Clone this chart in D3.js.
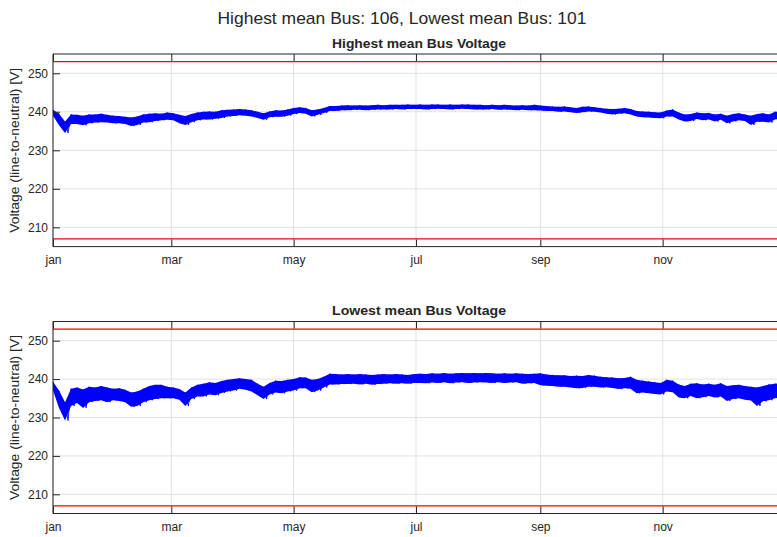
<!DOCTYPE html>
<html>
<head>
<meta charset="utf-8">
<script src="https://cdn.jsdelivr.net/npm/d3@7"></script>
<style>
  html, body { margin: 0; padding: 0; background: #fff; }
  svg { display: block; }
  text { font-family: "Liberation Sans", Arial, sans-serif; fill: #262626; }
</style>
</head>
<body>
<script>
// ---------------- DATA ----------------
const mainTitle = "Highest mean Bus: 106, Lowest mean Bus: 101";
const panelTitles = ["Highest mean Bus Voltage", "Lowest mean Bus Voltage"];
const yLabel = "Voltage (line-to-neutral) [V]";
const monthTicks = ["jan", "mar", "may", "jul", "sep", "nov"];
const yTicks = [210, 220, 230, 240, 250];
const limitLines = [207, 253];
const year = 2023;
// sample positions (day of year), one envelope reading every 3 days
const sampleDays = d3.range(0, 364, 3);

// Highest mean bus (106): band upper / lower envelope [V]
const highBusHi = [
240.5,239.5,237.5,239.3,239.2,239.0,239.3,239.3,239.5,239.2,239.0,238.9,238.7,238.5,238.8,239.3,
239.5,239.6,239.5,239.8,239.6,239.2,238.9,239.4,239.8,240.0,240.1,240.0,240.4,240.5,240.6,240.7,
240.6,240.4,240.0,239.6,240.1,240.4,240.3,240.6,241.0,241.2,241.0,240.4,240.6,241.0,241.5,241.5,
241.6,241.7,241.6,241.7,241.6,241.7,241.8,241.7,241.8,241.8,241.8,241.9,241.8,241.9,241.8,241.9,
241.9,241.8,241.9,241.8,241.9,241.9,241.8,241.8,241.7,241.8,241.7,241.8,241.7,241.6,241.7,241.6,
241.8,241.6,241.5,241.4,241.3,241.4,241.2,241.0,241.3,241.4,241.2,241.0,240.8,240.7,240.8,241.0,
240.7,240.2,240.1,240.0,239.9,239.8,240.3,240.6,239.8,239.3,239.4,239.8,239.6,239.7,239.3,239.5,
239.0,239.4,239.6,239.3,239.0,239.4,239.6,239.3,240.0,240.0
];
const highBusLo = [
239.0,236.5,234.5,236.8,236.8,236.5,237.0,237.2,237.3,237.2,237.0,237.0,236.8,236.3,236.6,237.2,
237.3,237.6,237.8,237.9,237.8,237.0,236.6,237.3,237.8,238.0,238.0,238.2,238.4,238.8,238.9,239.1,
239.0,238.8,238.4,237.9,238.6,238.7,238.7,239.0,239.4,239.7,239.5,238.8,239.2,239.7,240.2,240.2,
240.4,240.4,240.5,240.5,240.4,240.5,240.6,240.6,240.6,240.7,240.6,240.7,240.7,240.7,240.6,240.7,
240.8,240.7,240.6,240.7,240.8,240.7,240.6,240.6,240.6,240.7,240.5,240.6,240.5,240.4,240.5,240.4,
240.4,240.3,240.2,240.2,240.0,240.1,239.9,239.7,239.9,240.1,240.0,239.8,239.5,239.3,239.5,239.6,
239.3,238.8,238.6,238.5,238.4,238.3,238.8,238.8,238.0,237.5,237.6,238.1,237.8,238.0,237.5,237.9,
237.0,237.5,237.8,237.6,236.6,237.4,237.4,237.2,238.0,238.2
];

// Lowest mean bus (101): band upper / lower envelope [V]
const lowBusHi = [
239.3,237.0,234.0,237.5,237.8,237.3,238.0,237.8,238.2,237.8,237.5,237.6,237.2,236.5,236.8,237.5,
238.2,238.5,238.5,238.0,237.8,237.4,236.5,237.8,238.5,238.8,239.2,239.0,239.5,239.8,240.0,240.2,
240.0,239.8,238.8,238.0,239.0,239.6,239.5,239.8,240.0,240.5,240.4,239.8,240.0,240.6,241.4,241.3,
241.2,241.3,241.2,241.3,241.2,241.1,241.2,241.3,241.2,241.3,241.2,241.1,241.3,241.4,241.3,241.5,
241.4,241.6,241.4,241.5,241.6,241.5,241.6,241.5,241.6,241.5,241.4,241.5,241.4,241.5,241.4,241.3,
241.4,241.5,241.2,241.1,241.0,241.0,240.8,240.9,240.8,241.1,240.9,240.6,240.5,240.4,240.2,240.3,
240.6,239.8,239.6,239.4,239.2,239.0,239.8,239.6,238.6,238.2,238.8,238.9,238.6,238.8,238.5,238.9,
238.2,238.4,238.5,238.2,238.0,237.8,238.2,238.6,238.8,238.9
];
const lowBusLo = [
237.0,232.5,229.2,233.0,233.8,232.5,234.0,234.3,234.5,234.0,234.5,234.3,234.0,232.8,233.0,234.0,
234.5,234.8,235.0,235.0,235.0,234.6,233.0,234.8,235.5,235.5,236.0,235.8,236.4,236.8,237.0,237.5,
237.2,236.8,235.8,234.8,236.0,236.5,236.3,236.8,237.0,237.6,237.6,236.6,237.0,237.8,238.6,238.6,
238.7,238.7,238.8,238.6,238.8,238.5,238.7,238.8,238.9,238.8,238.9,238.8,239.0,239.0,238.9,239.1,
239.0,239.2,238.9,239.1,239.2,239.0,239.1,239.2,239.1,239.0,239.2,239.0,239.1,239.2,238.8,238.9,
239.0,238.4,238.3,238.2,238.0,238.0,237.8,237.6,237.7,238.0,238.0,237.8,237.9,237.7,237.4,237.6,
237.5,236.3,236.5,236.3,236.1,236.0,236.8,236.6,235.2,235.0,235.6,235.0,235.3,235.6,235.2,235.5,
234.3,234.8,235.0,234.6,234.4,233.0,234.2,234.5,235.0,235.2
];

// ---------------- CHART ----------------
const W = 777, H = 537;
const svg = d3.select("body").append("svg").attr("width", W).attr("height", H);

const plotLeft = 53, plotRight = 785;
const x = d3.scaleTime()
  .domain([new Date(year, 0, 1), new Date(year + 1, 0, 1)])
  .range([plotLeft, plotRight]);
const monthIdx = [0, 2, 4, 6, 8, 10];
const xTickDates = monthIdx.map(m => new Date(year, m, 1));
const dayDate = d => new Date(year, 0, 1 + Math.floor(d), (d % 1) * 24);

svg.append("text")
  .attr("x", 402).attr("y", 24)
  .attr("text-anchor", "middle")
  .attr("font-size", 17)
  .attr("textLength", 369).attr("lengthAdjust", "spacingAndGlyphs")
  .text(mainTitle);

const panels = [
  { title: panelTitles[0], hi: highBusHi, lo: highBusLo, top: 54, bottom: 246.6, titleY: 48 },
  { title: panelTitles[1], hi: lowBusHi, lo: lowBusLo, top: 321.5, bottom: 513.5, titleY: 315 }
];

panels.forEach((p, pi) => {
  const y = d3.scaleLinear().domain([205, 255]).range([p.bottom, p.top]);
  const g = svg.append("g");

  // grid
  g.append("g").selectAll("line").data(yTicks).join("line")
    .attr("x1", plotLeft).attr("x2", plotRight)
    .attr("y1", d => y(d)).attr("y2", d => y(d))
    .attr("stroke", "#e1e1e1").attr("stroke-width", 1);
  g.append("g").selectAll("line").data(xTickDates).join("line")
    .attr("x1", d => x(d)).attr("x2", d => x(d))
    .attr("y1", p.top).attr("y2", p.bottom)
    .attr("stroke", "#e1e1e1").attr("stroke-width", 1);

  // limit lines
  g.append("g").selectAll("line").data(limitLines).join("line")
    .attr("x1", plotLeft).attr("x2", plotRight)
    .attr("y1", d => y(d)).attr("y2", d => y(d))
    .attr("stroke", "#ff0000").attr("stroke-width", 1.2);

  // voltage band
  const pts = sampleDays.map((d, i) => ({ d, hi: p.hi[i], lo: p.lo[i] }));
  const area = d3.area()
    .x(v => x(dayDate(v.d)))
    .y0(v => y(v.lo)).y1(v => y(v.hi));
  g.append("path").datum(pts).attr("d", area).attr("fill", "#0000ff");
  const zz = [];
  pts.forEach(v => { zz.push([v.d, v.hi]); zz.push([v.d + 1.5, v.lo]); });
  g.append("path").datum(zz)
    .attr("d", d3.line().x(v => x(dayDate(v[0]))).y(v => y(v[1])))
    .attr("fill", "none").attr("stroke", "#0000ff").attr("stroke-width", 0.9);

  // axes
  const axColor = "#262626";
  const yAx = g.append("g").attr("transform", `translate(${plotLeft},0)`)
    .call(d3.axisLeft(y).tickValues(yTicks).tickSize(-7).tickPadding(5));
  const xAxB = g.append("g").attr("transform", `translate(0,${p.bottom})`)
    .call(d3.axisBottom(x).tickValues(xTickDates).tickSize(-7).tickPadding(9)
      .tickFormat((d, i) => monthTicks[i]));
  const xAxT = g.append("g").attr("transform", `translate(0,${p.top})`)
    .call(d3.axisTop(x).tickValues(xTickDates).tickSize(-7).tickFormat(""));
  [yAx, xAxB, xAxT].forEach(a => {
    a.select(".domain").remove();
    a.selectAll(".tick line").attr("stroke", axColor).attr("stroke-width", 1);
    a.selectAll("text").attr("font-size", 12).attr("fill", axColor)
      .attr("font-family", "Liberation Sans, Arial, sans-serif");
  });
  // box spines
  g.append("line").attr("x1", plotLeft).attr("x2", plotRight).attr("y1", p.top).attr("y2", p.top)
    .attr("stroke", axColor).attr("stroke-width", 1);
  g.append("line").attr("x1", plotLeft).attr("x2", plotRight).attr("y1", p.bottom).attr("y2", p.bottom)
    .attr("stroke", axColor).attr("stroke-width", 1);
  g.append("line").attr("x1", plotLeft).attr("x2", plotLeft).attr("y1", p.top).attr("y2", p.bottom)
    .attr("stroke", axColor).attr("stroke-width", 1);

  // titles
  g.append("text")
    .attr("x", (plotLeft + plotRight) / 2).attr("y", p.titleY)
    .attr("text-anchor", "middle").attr("font-size", 13).attr("font-weight", "bold")
    .attr("fill", "#000")
    .attr("textLength", 174).attr("lengthAdjust", "spacingAndGlyphs")
    .text(p.title);
  g.append("text")
    .attr("transform", `translate(19,${(p.top + p.bottom) / 2}) rotate(-90)`)
    .attr("text-anchor", "middle").attr("font-size", 13)
    .attr("textLength", 165).attr("lengthAdjust", "spacingAndGlyphs")
    .text(yLabel);
});
</script>
</body>
</html>
